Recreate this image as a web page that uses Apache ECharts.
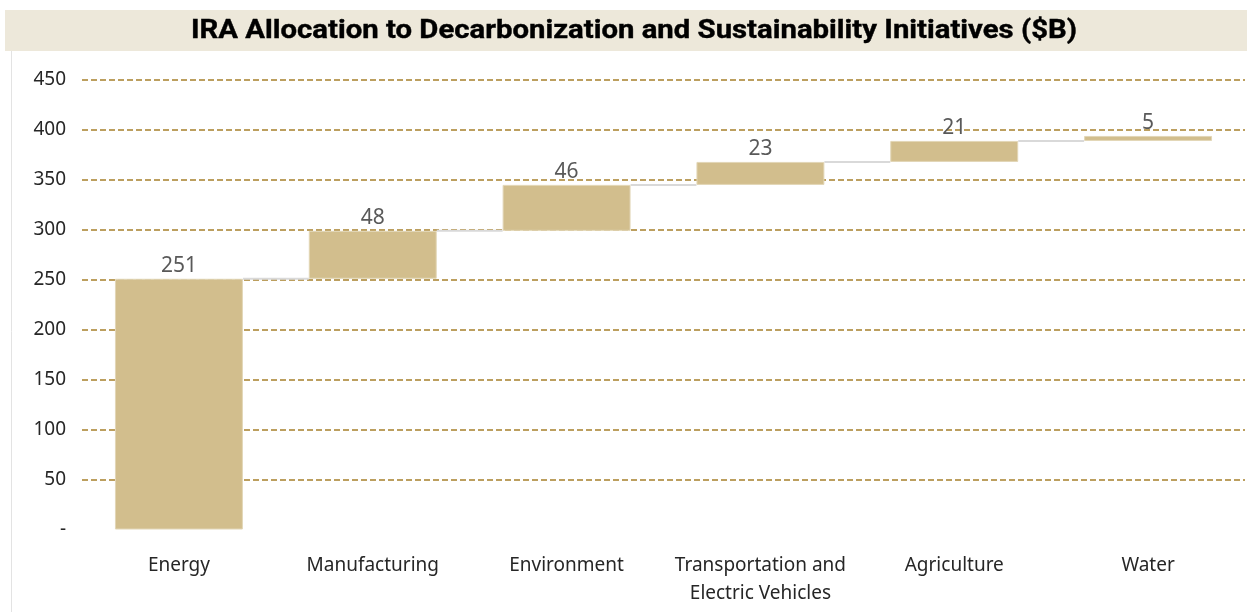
<!DOCTYPE html>
<html>
<head>
<meta charset="utf-8">
<script src="https://cdn.jsdelivr.net/npm/echarts@6/dist/echarts.min.js"></script>
<style>
  html, body { margin: 0; padding: 0; background: #ffffff; }
  #chart { width: 1247px; height: 612px; }
</style>
</head>
<body>
<div id="chart"></div>
<script>
// IRA allocation by initiative, in billions of dollars
const titleText = 'IRA Allocation to Decarbonization and Sustainability Initiatives ($B)';
const categories = ['Energy', 'Manufacturing', 'Environment', 'Transportation and\nElectric Vehicles', 'Agriculture', 'Water'];
const values = [251, 48, 46, 23, 21, 5];
const yMin = 0;
const yMax = 450;
const yStep = 50;

// running totals: each bar floats on the sum of the ones before it
const bases = [];
const tops = [];
let running = 0;
values.forEach(v => { bases.push(running); running += v; tops.push(running); });

const FONT = '"Noto Sans", "Open Sans", sans-serif';
const BAR_COLOR = '#d2be8d';
const BAR_RATIO = 0.66;

const chart = echarts.init(document.getElementById('chart'), null, { renderer: 'canvas' });

// condensed bold title: measure, then squeeze horizontally to the banner width
const titleFont = 'bold 26px Roboto';
const ctx = document.createElement('canvas').getContext('2d');
ctx.font = titleFont;
const titleW = ctx.measureText(titleText).width;
const titleTarget = 886;
const sx = titleTarget / titleW;

chart.setOption({
  animation: false,
  backgroundColor: '#ffffff',
  grid: { left: 82, right: 2, top: 80, bottom: 82.5, containLabel: false },
  graphic: [
    { type: 'rect', z: 0, shape: { x: 5, y: 10, width: 1242, height: 41 }, style: { fill: '#ede8da' } },
    { type: 'line', z: 0, shape: { x1: 11.5, y1: 51, x2: 11.5, y2: 612 }, style: { stroke: '#e3e3e3', lineWidth: 1 } },
    {
      type: 'text', z: 5, x: 634, y: 31, scaleX: sx, scaleY: 1,
      style: {
        text: titleText, font: titleFont, fill: '#000000',
        stroke: '#000000', lineWidth: 0.4,
        textAlign: 'center', textVerticalAlign: 'middle'
      }
    }
  ],
  xAxis: {
    type: 'category',
    data: categories,
    axisLine: { show: false },
    axisTick: { show: false },
    axisLabel: { color: '#262626', fontFamily: FONT, fontSize: 19, margin: 22, lineHeight: 28, interval: 0 }
  },
  yAxis: {
    type: 'value',
    min: yMin, max: yMax, interval: yStep,
    axisLine: { show: false },
    axisTick: { show: false },
    axisLabel: {
      color: '#262626', fontFamily: FONT, fontSize: 19, margin: 16,
      formatter: v => (v === 0 ? '-' : String(v))
    },
    splitLine: {
      show: true, showMinLine: false,
      lineStyle: { color: '#bc9f5f', width: 2, type: [6, 3] }
    }
  },
  series: [
    {
      name: 'base', type: 'bar', stack: 'wf', barWidth: (BAR_RATIO * 100) + '%',
      itemStyle: { color: 'transparent' }, silent: true, z: 3,
      data: bases
    },
    {
      name: 'allocation', type: 'bar', stack: 'wf', barWidth: (BAR_RATIO * 100) + '%', z: 3,
      itemStyle: { color: BAR_COLOR, borderColor: '#e2d6b6', borderWidth: 1 },
      label: { show: true, position: 'top', distance: 2, color: '#595959', fontFamily: FONT, fontSize: 21 },
      data: values
    },
    {
      // connectors from the top of each bar to the start of the next
      name: 'connector', type: 'custom', z: 2, silent: true,
      data: tops.slice(0, -1).map((t, i) => [i, t]),
      renderItem: (params, api) => {
        const i = api.value(0);
        const p0 = api.coord([i, api.value(1)]);
        const p1 = api.coord([i + 1, api.value(1)]);
        const half = api.size([1, 0])[0] * BAR_RATIO / 2;
        return {
          type: 'line',
          shape: { x1: p0[0] + half, y1: p0[1], x2: p1[0] - half, y2: p1[1] },
          style: { stroke: '#d9d9d9', lineWidth: 2 }
        };
      }
    }
  ]
});
</script>
</body>
</html>
